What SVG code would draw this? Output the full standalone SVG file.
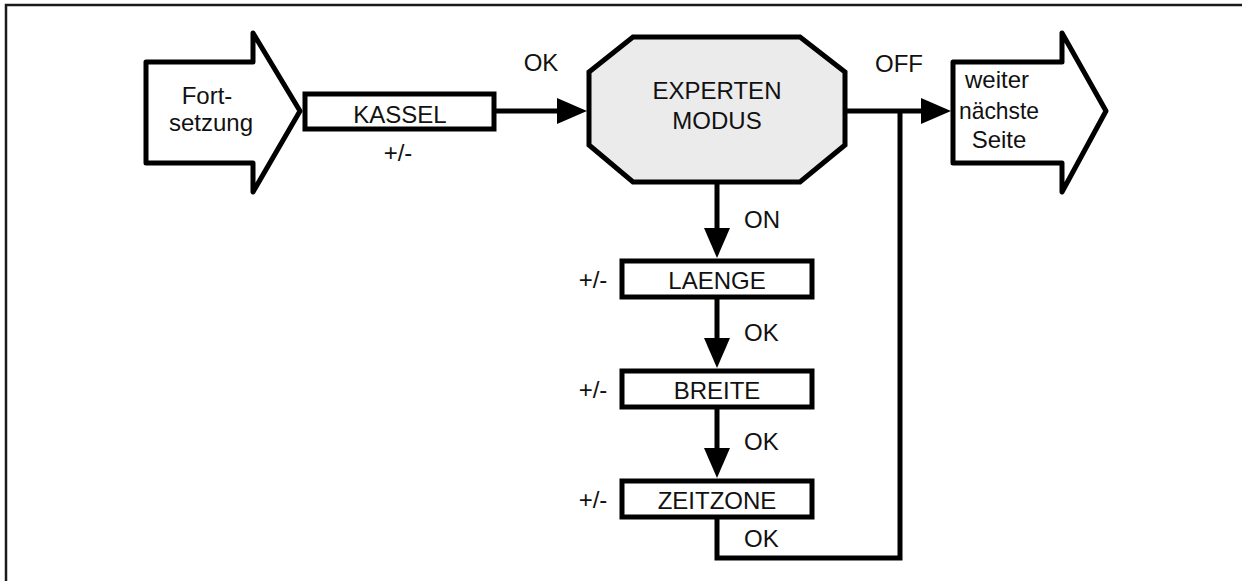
<svg xmlns="http://www.w3.org/2000/svg" width="1242" height="581" viewBox="0 0 1242 581">
<defs>
<style>
.t{font-family:"Liberation Sans",Arial,Helvetica,sans-serif;font-size:24px;fill:#111;}
.m{text-anchor:middle;}
.box{fill:#fff;stroke:#000;stroke-width:5;}
.big{fill:#fff;stroke:#000;stroke-width:5;stroke-linejoin:round;}
.oct{fill:#ebebeb;stroke:#000;stroke-width:5;stroke-linejoin:miter;}
.c{fill:none;stroke:#000;stroke-width:5;stroke-linejoin:miter;}
</style>
<marker id="ah" markerWidth="30" markerHeight="26" refX="20" refY="13" orient="auto" markerUnits="userSpaceOnUse">
<path d="M0,0 L30,13 L0,26 z" fill="#000"/>
</marker>
</defs>
<rect width="1242" height="581" fill="#fff"/>
<path d="M6,581 V5 H1242" fill="none" stroke="#1a1a1a" stroke-width="2.5"/>

<g id="connectors">
<path class="c" d="M494,111 H577" marker-end="url(#ah)"/>
<path class="c" d="M845,111 H941" marker-end="url(#ah)"/>
<path class="c" d="M717,182 V248" marker-end="url(#ah)"/>
<path class="c" d="M717,297 V358" marker-end="url(#ah)"/>
<path class="c" d="M717,407 V468" marker-end="url(#ah)"/>
<path class="c" d="M717,517 V558 H900 V111"/>
<text class="t m" x="541" y="71">OK</text>
<text class="t m" x="899" y="72">OFF</text>
<text class="t" x="744" y="228">ON</text>
<text class="t" x="744" y="341">OK</text>
<text class="t" x="744" y="450">OK</text>
<text class="t" x="744" y="547">OK</text>
</g>

<g id="fortsetzung">
<path class="big" d="M146,62 H253 V33 L300,111 L253,192 V163 H146 Z"/>
<text class="t m" x="207" y="104">Fort-</text>
<text class="t m" x="211" y="131">setzung</text>
</g>

<g id="kassel">
<rect class="box" x="305" y="94" width="189" height="35"/>
<text class="t m" x="400" y="123">KASSEL</text>
<text class="t m" x="398" y="161">+/-</text>
</g>

<g id="experten">
<path class="oct" d="M633,37 H800 L845,72 V145 L800,182 H633 L589,145 V72 Z"/>
<text class="t m" x="717" y="99">EXPERTEN</text>
<text class="t m" x="717" y="129">MODUS</text>
</g>

<g id="weiter">
<path class="big" d="M953,62 H1062 V33 L1106,111 L1062,192 V163 H953 Z"/>
<text class="t m" x="997" y="88">weiter</text>
<text class="t m" x="999" y="119" textLength="80" lengthAdjust="spacingAndGlyphs">nächste</text>
<text class="t m" x="999" y="148">Seite</text>
</g>

<g id="laenge">
<rect class="box" x="622" y="261" width="190" height="36"/>
<text class="t m" x="717" y="289">LAENGE</text>
<text class="t m" x="593" y="288">+/-</text>
</g>

<g id="breite">
<rect class="box" x="622" y="371" width="190" height="36"/>
<text class="t m" x="717" y="399">BREITE</text>
<text class="t m" x="593" y="398">+/-</text>
</g>

<g id="zeitzone">
<rect class="box" x="622" y="481" width="190" height="36"/>
<text class="t m" x="717" y="509">ZEITZONE</text>
<text class="t m" x="593" y="508">+/-</text>
</g>
</svg>
